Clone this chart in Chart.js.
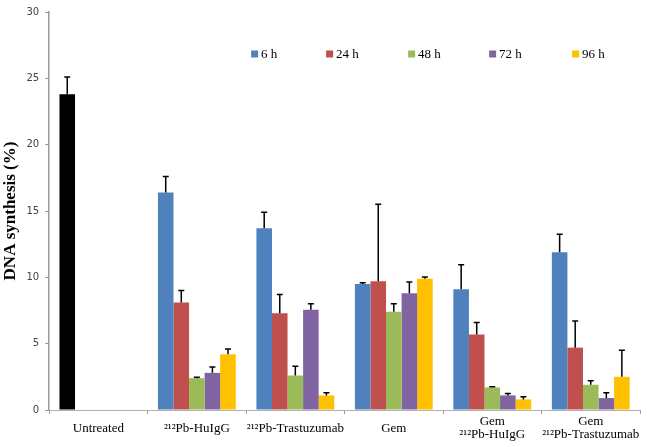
<!DOCTYPE html>
<html>
<head>
<meta charset="utf-8">
<script src="https://cdn.jsdelivr.net/npm/chart.js@4/dist/chart.umd.min.js"></script>
<style>
  html, body { margin: 0; padding: 0; background: #fff; }
  #wrap { width: 649px; height: 447px; }
</style>
</head>
<body>
<div id="wrap"><canvas id="dnaChart"></canvas></div>
<script>
// categories and tick labels
const categories = [
    'Untreated',
    '²¹²Pb-HuIgG',
    '²¹²Pb-Trastuzumab',
    'Gem',
    ['Gem', '²¹²Pb-HuIgG'],
    ['Gem', '²¹²Pb-Trastuzumab']
];
const seriesNames = ['6 h', '24 h', '48 h', '72 h', '96 h'];
const yTicks = [0, 5, 10, 15, 20, 25, 30];

// values (%), first value of 6 h is the untreated control
const h6 = [23.8, 16.4, 13.7, 9.5, 9.1, 11.9];
const h24 = [null, 8.1, 7.3, 9.7, 5.7, 4.7];
const h48 = [null, 2.4, 2.6, 7.4, 1.7, 1.9];
const h72 = [null, 2.8, 7.55, 8.8, 1.1, 0.9];
const h96 = [null, 4.2, 1.1, 9.9, 0.8, 2.5];

// upper error bar lengths
const h6Err = [1.3, 1.2, 1.2, 0.1, 1.85, 1.35];
const h24Err = [null, 0.9, 1.4, 5.8, 0.9, 2.0];
const h48Err = [null, 0.07, 0.7, 0.6, 0.05, 0.3];
const h72Err = [null, 0.45, 0.45, 0.85, 0.15, 0.4];
const h96Err = [null, 0.4, 0.2, 0.13, 0.2, 2.0];

const colors = ['#4F81BD', '#C0504D', '#9BBB59', '#8064A2', '#FFC000'];
const values = [h6, h24, h48, h72, h96];
const errors = [h6Err, h24Err, h48Err, h72Err, h96Err];

// draws the upward error bars with caps
const errorBars = {
    id: 'errorBars',
    afterDatasetsDraw(chart) {
        const ctx = chart.ctx;
        const yScale = chart.scales.y;
        ctx.save();
        ctx.strokeStyle = '#000';
        ctx.lineWidth = 1.5;
        chart.data.datasets.forEach((ds, i) => {
            const meta = chart.getDatasetMeta(i);
            meta.data.forEach((bar, j) => {
                const v = ds.data[j];
                const e = ds.errors[j];
                if (v == null || e == null) return;
                const top = yScale.getPixelForValue(v + e);
                ctx.beginPath();
                ctx.moveTo(bar.x, bar.y);
                ctx.lineTo(bar.x, top);
                ctx.moveTo(bar.x - 3, top);
                ctx.lineTo(bar.x + 3, top);
                ctx.stroke();
            });
        });
        ctx.restore();
    }
};

// legend in one row inside the plot, like the original
const innerLegend = {
    id: 'innerLegend',
    afterDraw(chart, args, opts) {
        const ctx = chart.ctx;
        const area = chart.chartArea;
        ctx.save();
        ctx.font = '13px "Liberation Serif"';
        ctx.textBaseline = 'middle';
        chart.data.datasets.forEach((ds, i) => {
            const x = area.left + opts.offsets[i];
            const y = area.top + opts.top;
            ctx.fillStyle = colors[i];
            ctx.fillRect(x, y - 3.5, 7, 7);
            ctx.fillStyle = '#000';
            ctx.fillText(ds.label, x + 10, y + 1);
        });
        ctx.restore();
    }
};

const datasets = seriesNames.map((name, i) => ({
    label: name,
    data: values[i],
    errors: errors[i],
    backgroundColor: i === 0
        ? (c) => (c.dataIndex === 0 ? '#000000' : colors[0])
        : colors[i],
    borderWidth: 0,
    categoryPercentage: 0.79,
    barPercentage: 1.0
}));

new Chart(document.getElementById('dnaChart'), {
    type: 'bar',
    data: { labels: categories, datasets: datasets },
    plugins: [errorBars, innerLegend],
    options: {
        responsive: true,
        maintainAspectRatio: false,
        animation: false,
        layout: { padding: { top: 0, right: 9, left: 0, bottom: 0 } },
        plugins: {
            tooltip: { enabled: false },
            legend: { display: false },
            innerLegend: { offsets: [202, 277, 359, 440, 523], top: 42 }
        },
        scales: {
            x: {
                afterFit: (axis) => { axis.height = 37; },
                grid: {
                    display: true,
                    offset: true,
                    drawOnChartArea: false,
                    tickLength: 4,
                    color: '#999'
                },
                border: { color: '#b0b0b0', width: 1 },
                ticks: {
                    color: '#000',
                    maxRotation: 0,
                    autoSkip: false,
                    padding: 8,
                    crossAlign: 'center',
                    font: { family: 'Liberation Serif', size: 13, lineHeight: 1.0 }
                }
            },
            y: {
                min: 0,
                max: 30,
                afterBuildTicks: (axis) => { axis.ticks = yTicks.map(v => ({ value: v })); },
                grid: {
                    display: true,
                    drawOnChartArea: false,
                    tickLength: 4,
                    color: '#999'
                },
                border: { color: '#999', width: 1.5 },
                ticks: {
                    color: '#444',
                    padding: 6,
                    font: { family: 'DejaVu Sans', size: 10 }
                },
                title: {
                    display: true,
                    text: 'DNA synthesis (%)',
                    color: '#000',
                    padding: { top: 0, bottom: 0 },
                    font: { family: 'Liberation Serif', size: 17, weight: 'bold' }
                }
            }
        }
    }
});
</script>
</body>
</html>
